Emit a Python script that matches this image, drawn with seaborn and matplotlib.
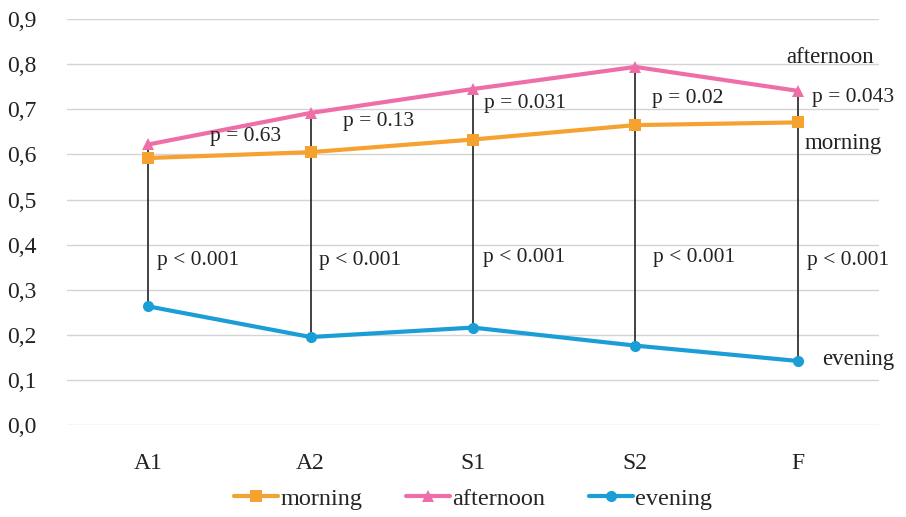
import pandas as pd
import matplotlib
matplotlib.use("Agg")
import matplotlib.pyplot as plt
import seaborn as sns

# data
stages = ["A1", "A2", "S1", "S2", "F"]
morning = [0.592, 0.605, 0.633, 0.665, 0.671]
afternoon = [0.622, 0.692, 0.745, 0.794, 0.741]
evening = [0.263, 0.195, 0.216, 0.176, 0.142]
pair_p = ["p = 0.63", "p = 0.13", "p = 0.031", "p = 0.02", "p = 0.043"]
evening_p = ["p < 0.001"] * 5

series = ["morning", "afternoon", "evening"]
colors = {"morning": "#F5A230", "afternoon": "#EE6FA8", "evening": "#1B9DD6"}
markers = {"morning": "s", "afternoon": "^", "evening": "o"}

df = pd.DataFrame({
    "stage": stages * 3,
    "x": list(range(len(stages))) * 3,
    "value": morning + afternoon + evening,
    "period": ["morning"] * 5 + ["afternoon"] * 5 + ["evening"] * 5,
})

sns.set_style("whitegrid")
plt.rcParams["font.family"] = ["Liberation Serif", "DejaVu Serif"]

fig = plt.figure(figsize=(9.06, 5.17), dpi=100)
ax = fig.add_axes([0.074, 0.178, 0.896, 0.785])

# vertical connectors between evening and afternoon
for i in range(len(stages)):
    ax.plot([i, i], [evening[i], afternoon[i]], color="#222222", lw=1.2, zorder=1)

sns.lineplot(data=df, x="x", y="value", hue="period", style="period",
             palette=colors, markers=markers, dashes=False, lw=3,
             markersize=8, markeredgewidth=0, ax=ax, zorder=3)

# p-value labels
pair_pos = [(0.38, 0.64), (1.2, 0.672), (2.07, 0.712), (3.1, 0.723), (4.09, 0.727)]
for (px, py), t in zip(pair_pos, pair_p):
    ax.text(px, py, t, fontsize=15.5, va="center", ha="left", color="#222222")
ev_pos = [(0.055, 0.364), (1.05, 0.364), (2.06, 0.372), (3.11, 0.372), (4.06, 0.364)]
for (px, py), t in zip(ev_pos, evening_p):
    ax.text(px, py, t, fontsize=15.5, va="center", ha="left", color="#222222")

ax.text(3.93, 0.814, "afternoon", fontsize=16.5, va="center", ha="left", color="#222222")
ax.text(4.04, 0.625, "morning", fontsize=16.5, va="center", ha="left", color="#222222")
ax.text(4.15, 0.146, "evening", fontsize=16.5, va="center", ha="left", color="#222222")

ax.set_xlim(-0.5, 4.5)
ax.set_ylim(0, 0.9)
ax.set_yticks([i / 10 for i in range(10)])
ax.set_yticklabels([f"{i / 10:.1f}".replace(".", ",") for i in range(10)], fontsize=17)
ax.set_xticks(range(len(stages)))
ax.set_xticklabels(stages, fontsize=17)
ax.tick_params(axis="x", length=0, pad=20, colors="#222222")
ax.tick_params(axis="y", length=0, pad=22, colors="#222222")
ax.grid(axis="x", visible=False)
ax.grid(axis="y", color="#d4d4d4", lw=1)
for s in ax.spines.values():
    s.set_visible(False)
ax.set_xlabel("")
ax.set_ylabel("")

ax.legend(loc="upper center", bbox_to_anchor=(0.5, -0.113), ncol=3, frameon=False,
          fontsize=17.5, handlelength=1.8, handletextpad=0.1, columnspacing=1.8,
          borderpad=0.2)

fig.savefig("out.png", dpi=100)
